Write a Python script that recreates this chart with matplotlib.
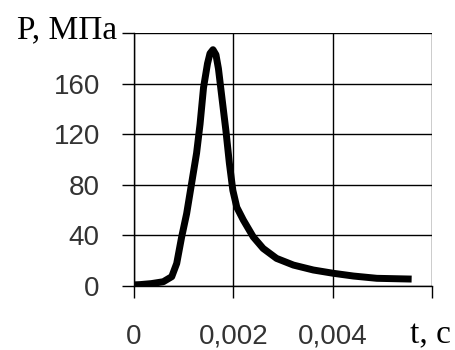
import matplotlib
matplotlib.use("Agg")
import matplotlib.pyplot as plt

# Data
t_values = [0.0, 0.00012, 0.00035, 0.00059, 0.00076, 0.00086, 0.00096, 0.00106, 0.00116,
            0.00126, 0.00133, 0.00140, 0.00148, 0.00153, 0.00159, 0.00165, 0.00170, 0.00177,
            0.00185, 0.00192, 0.00199, 0.00207, 0.00220, 0.00240, 0.00260, 0.00287,
            0.00321, 0.00361, 0.00401, 0.00442, 0.00489, 0.00559]
p_values = [0.5, 0.7, 1.5, 3, 7, 17.5, 38.6, 57, 81,
            105, 128, 157, 176, 184, 187, 183, 172, 149,
            123, 97, 75.5, 62, 52, 38.6, 29.4, 21.5,
            16.2, 12.3, 9.7, 7.5, 5.7, 5.1]

x_ticks = [0, 0.002, 0.004, 0.006]
x_tick_labels = ["0", "0,002", "0,004", ""]
y_ticks = [0, 40, 80, 120, 160, 200]
y_tick_labels = ["0", "40", "80", "120", "160", ""]
y_title = "P, МПа"
x_title = "t, с"

W, H = 456, 350
fig = plt.figure(figsize=(W / 100, H / 100), dpi=100)
fig.patch.set_facecolor("white")
ax = fig.add_axes([134 / W, 1 - 285.5 / H, (432 - 134) / W, (285.5 - 33.3) / H])

ax.plot(t_values, p_values, color="black", lw=5.0, solid_joinstyle="round",
        solid_capstyle="butt", zorder=3)

ax.set_xlim(0, 0.006)
ax.set_ylim(0, 200)
ax.set_xticks(x_ticks)
ax.set_yticks(y_ticks)
ax.set_xticklabels(x_tick_labels)
ax.set_yticklabels(y_tick_labels)

tick_family = ["Liberation Sans Narrow", "Liberation Sans", "DejaVu Sans"]
for lab in ax.get_xticklabels() + ax.get_yticklabels():
    lab.set_fontfamily(tick_family)
    lab.set_fontsize(20)
    lab.set_color("#333333")

ax.tick_params(axis="both", direction="out", length=8.6, width=1.0, color="black")
ax.tick_params(axis="y", pad=16)
ax.tick_params(axis="x", pad=19)

ax.grid(True, color="black", lw=1.0)
ax.set_axisbelow(True)
for s in ["top", "right"]:
    ax.spines[s].set_visible(False)
ax.spines["left"].set_linewidth(1.0)
ax.spines["bottom"].set_linewidth(1.0)

serif = ["Liberation Serif", "DejaVu Serif"]
fig.text(117 / W, 1 - 38 / H, y_title, family=serif, size=24, ha="right", va="baseline",
         color="black")
fig.text(410 / W, 1 - 343 / H, x_title, family=serif, size=24, ha="left", va="baseline",
         color="black")

fig.savefig("out.png", dpi=100, facecolor="white")
